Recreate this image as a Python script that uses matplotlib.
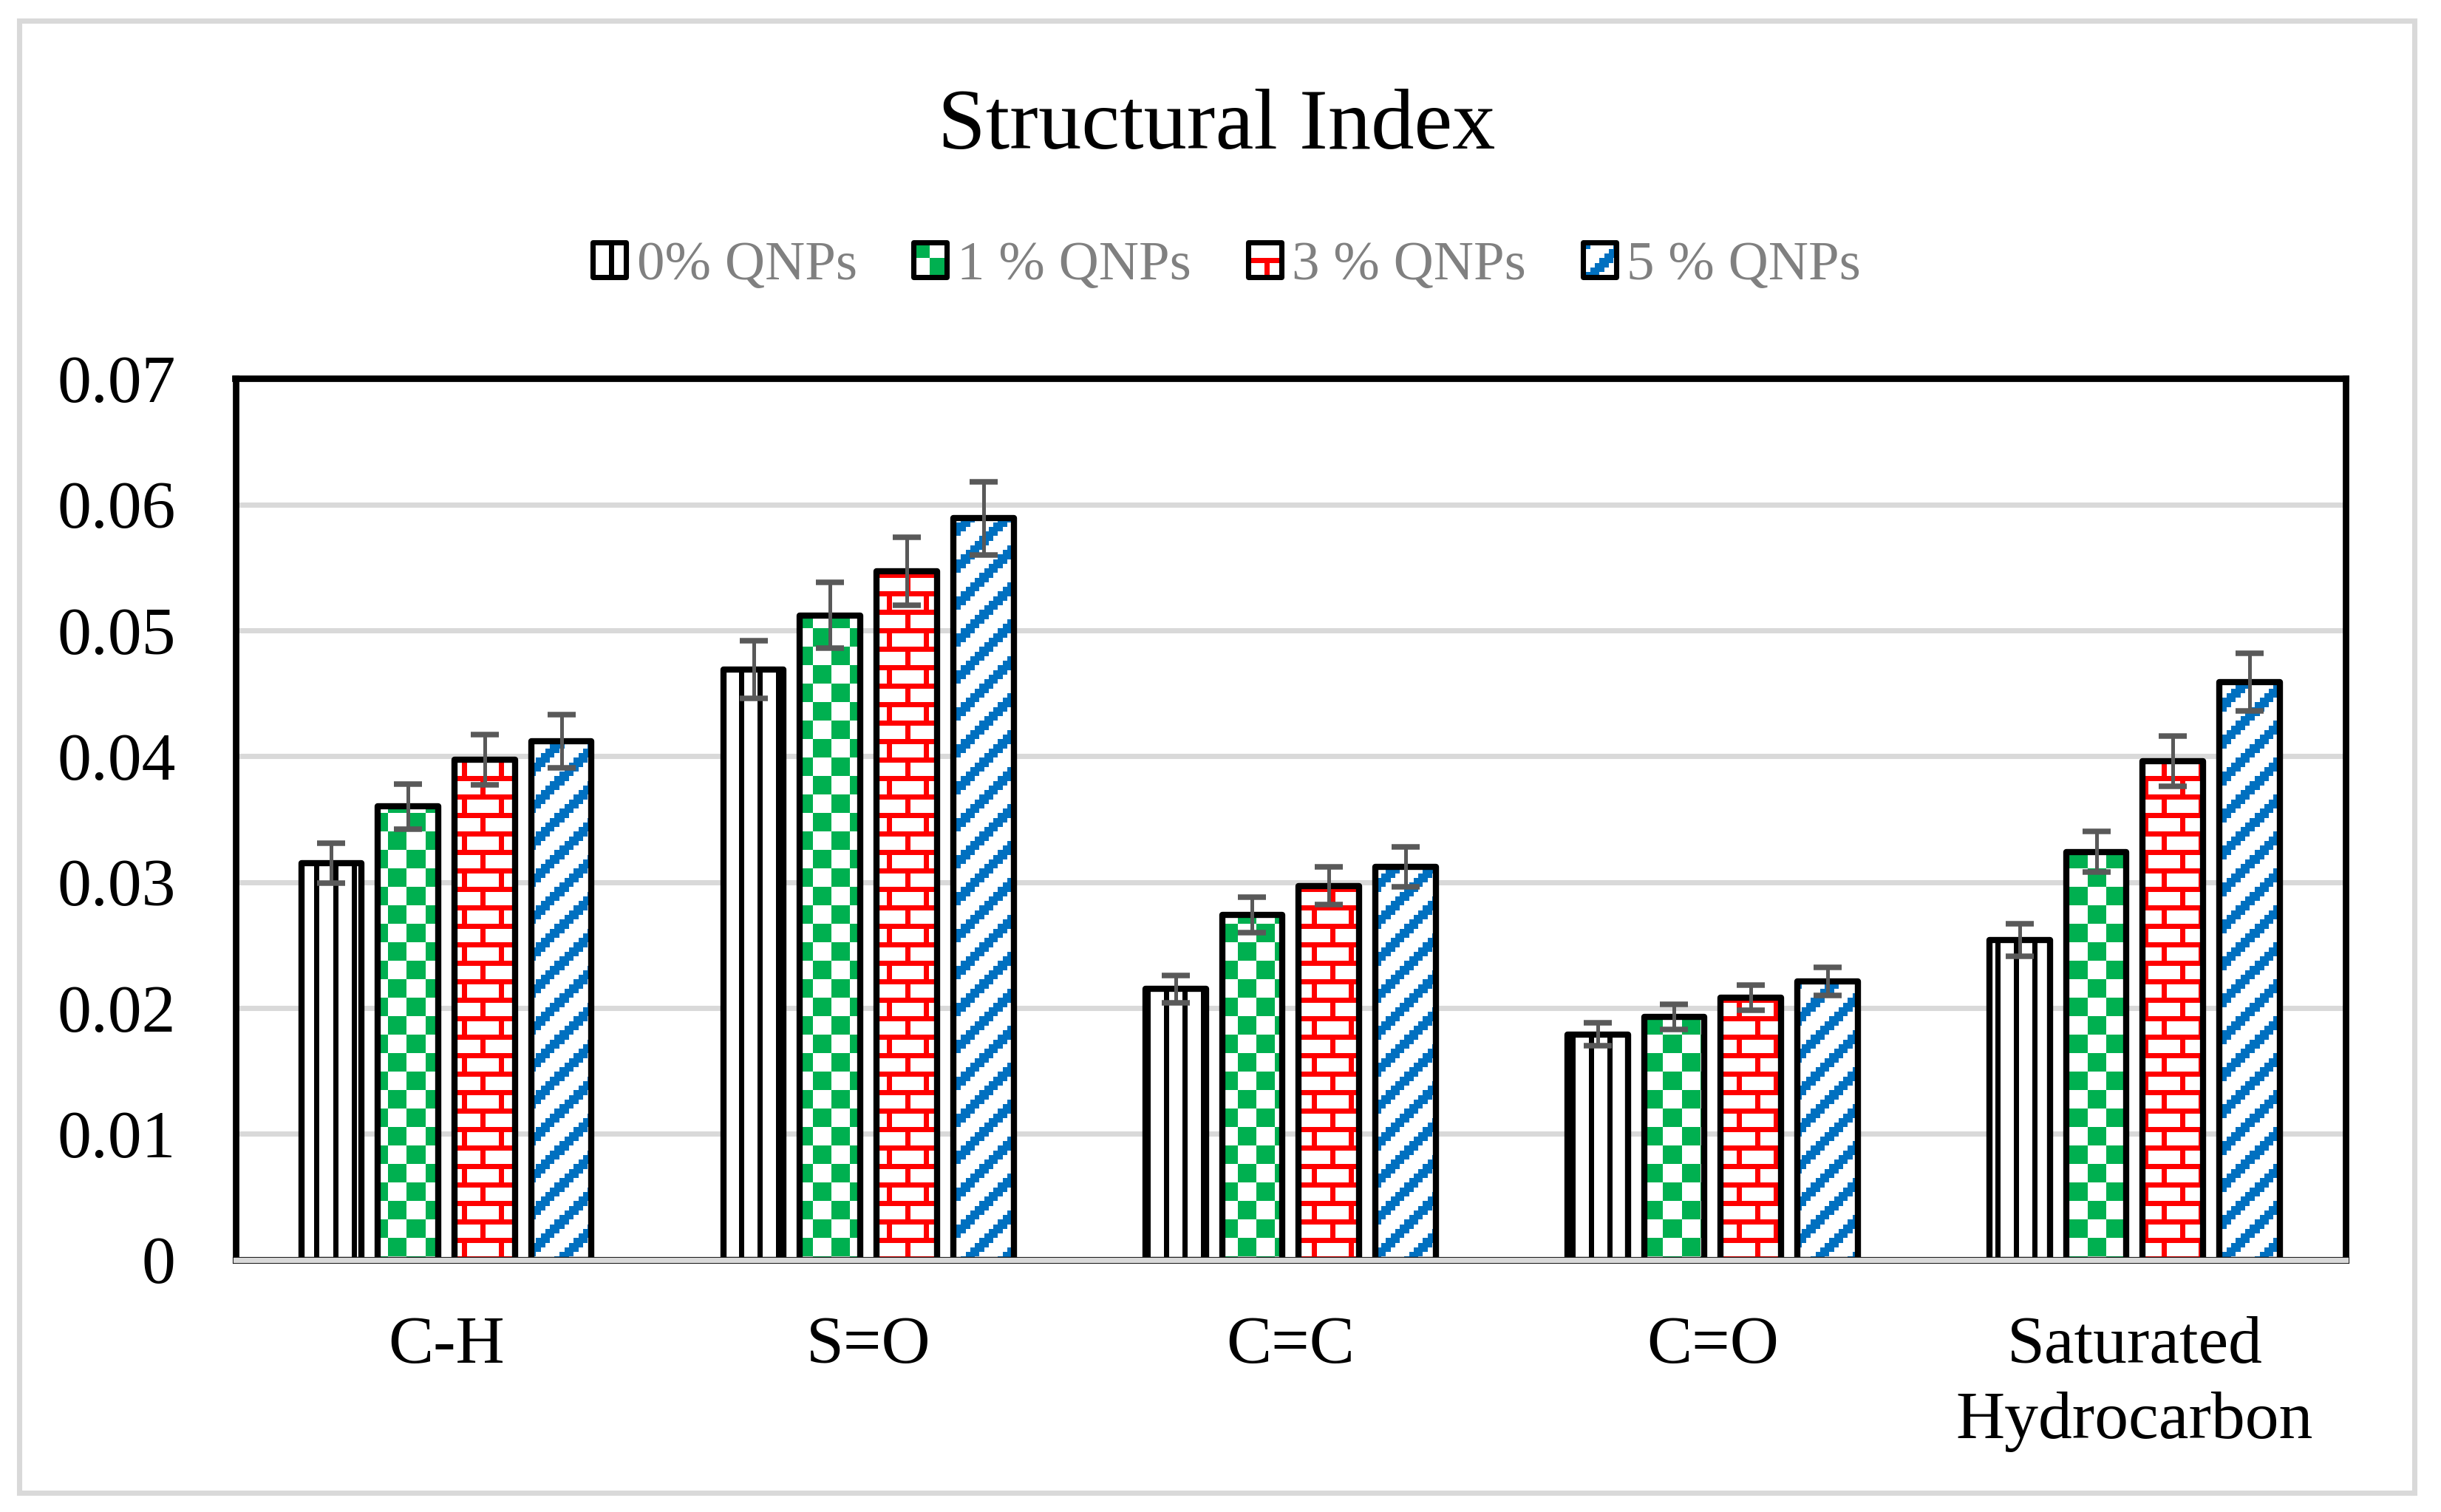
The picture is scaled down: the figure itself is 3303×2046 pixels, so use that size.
import numpy as np
import matplotlib
matplotlib.use("Agg")
import matplotlib.pyplot as plt
from matplotlib.patches import Rectangle
from matplotlib.colors import to_rgb
from matplotlib.legend_handler import HandlerBase
from matplotlib.image import BboxImage
from matplotlib.transforms import Bbox, TransformedBbox

plt.rcParams['font.family'] = ['Liberation Serif', 'DejaVu Serif']

# ---------------- data ----------------
categories = ['C-H', 'S=O', 'C=C', 'C=O', 'Saturated\nHydrocarbon']
series_labels = ['0% QNPs', '1 % QNPs', '3 % QNPs', '5 % QNPs']

q0 = [0.0315, 0.0469, 0.0215, 0.0179, 0.0254]
q1 = [0.0360, 0.0512, 0.0274, 0.0193, 0.0324]
q3 = [0.0397, 0.0547, 0.0297, 0.0208, 0.0396]
q5 = [0.0412, 0.0589, 0.0312, 0.0221, 0.0459]

e0 = [0.0016, 0.0023, 0.0011, 0.0009, 0.0013]
e1 = [0.0018, 0.0026, 0.0014, 0.0010, 0.0016]
e3 = [0.0020, 0.0027, 0.0015, 0.0010, 0.0020]
e5 = [0.0021, 0.0029, 0.0016, 0.0011, 0.0023]

yticks = [0, 0.01, 0.02, 0.03, 0.04, 0.05, 0.06, 0.07]
ytick_labels = ['0', '0.01', '0.02', '0.03', '0.04', '0.05', '0.06', '0.07']

title = 'Structural Index'

# ---------------- styles ----------------
colors = ['#000000', '#00B050', '#FF0000', '#0070C0']
U = 6.25  # pattern cell size in pixels


def _cells(X, Y):
    return (np.floor(X / U).astype(int), np.floor(Y / U).astype(int))


def pat_vert(X, Y):
    cx, cy = _cells(X, Y)
    return (cx % 4) == 0


def pat_checker(X, Y):
    cx, cy = _cells(X, Y)
    return ((cx // 4 + cy // 4) % 2) == 0


def pat_brick(X, Y):
    cx, cy = _cells(X, Y)
    cx = cx % 8
    cy = cy % 8
    return (cy % 4 == 0) | ((cy < 4) & (cx == 0)) | ((cy >= 4) & (cx == 4))


def pat_diag(X, Y):
    cx, cy = _cells(X, Y)
    return ((cx + cy) % 8) < 3


patterns = [pat_vert, pat_checker, pat_brick, pat_diag]


def make_rgb(func, color, X, Y):
    mask = func(X, Y)
    rgb = np.ones(mask.shape + (3,))
    rgb[mask] = to_rgb(color)
    return rgb


# ---------------- figure ----------------
W, H = 3303, 2046
DPI = 300
fig = plt.figure(figsize=(W / DPI, H / DPI), dpi=DPI)
fig.patch.set_facecolor('white')

ax_left, ax_right = 318.5, 3174.0
ax_top, ax_bot = 512.4, 1704.5
ax = fig.add_axes([ax_left / W, 1 - ax_bot / H,
                   (ax_right - ax_left) / W, (ax_bot - ax_top) / H])
ax.set_xlim(-0.5, len(categories) - 0.5)
ax.set_ylim(0, 0.07)

values = [q0, q1, q3, q5]
errors = [e0, e1, e3, e5]
step = 0.1816
width = 0.143
x = np.arange(len(categories))

all_bars = []
for i, (vals, errs) in enumerate(zip(values, errors)):
    xpos = x + (i - 1.5) * step
    bars = ax.bar(xpos, vals, width=width, facecolor='none', edgecolor='black',
                  linewidth=2.0, zorder=3, joinstyle='round')
    all_bars.append(bars)
    ax.errorbar(xpos, vals, yerr=errs, fmt='none', ecolor='#595959',
                elinewidth=1.2, capsize=4.5, capthick=1.8, zorder=4)

# fill patterns inside bars
inv = ax.transData.inverted()
for i, bars in enumerate(all_bars):
    for rect in bars:
        (dx0, dy0), (dx1, dy1) = ax.transData.transform(
            [(rect.get_x(), 0), (rect.get_x() + rect.get_width(), rect.get_height())])
        px0, px1 = int(np.floor(dx0)) - 1, int(np.ceil(dx1)) + 1
        r0, r1 = int(np.floor(H - dy1)) - 1, int(np.ceil(H - dy0)) + 1
        X, Y = np.meshgrid(np.arange(px0, px1), np.arange(r0, r1))
        img = make_rgb(patterns[i], colors[i], X, Y)
        (ex0, eyb), (ex1, eyt) = inv.transform([(px0, H - r1), (px1, H - r0)])
        ax.imshow(img, extent=(ex0, ex1, eyb, eyt), origin='upper',
                  interpolation='nearest', aspect='auto', clip_path=rect, zorder=2)

ax.set_xlim(-0.5, len(categories) - 0.5)
ax.set_ylim(0, 0.07)

# axes styling
ax.set_yticks(yticks)
ax.set_yticklabels(ytick_labels)
ax.set_xticks(x)
ax.set_xticklabels(categories, linespacing=1.3)
ax.tick_params(axis='y', length=0, pad=19.4, labelsize=22)
ax.tick_params(axis='x', length=0, pad=18.3, labelsize=22)
ax.yaxis.grid(True, color='#D9D9D9', linewidth=1.7)
ax.set_axisbelow(True)
for s in ['left', 'right', 'top']:
    ax.spines[s].set_linewidth(2.1)
    ax.spines[s].set_color('black')
ax.spines['bottom'].set_visible(False)
ax.axhline(0, color='black', linewidth=2.2, zorder=5, clip_on=False)
ax.axhline(0, color='#D9D9D9', linewidth=1.75, zorder=6, clip_on=False)

# title
fig.text(1646 / W, 1 - 201 / H, title, ha='center', va='baseline', fontsize=28)


# legend with pattern icons
class PatternHandler(HandlerBase):
    def __init__(self, func, color):
        super().__init__()
        self.func = func
        self.color = color

    def create_artists(self, legend, orig_handle, xdescent, ydescent, width,
                       height, fontsize, trans):
        x0, y0 = -xdescent, -ydescent
        bb = TransformedBbox(Bbox.from_bounds(x0, y0, width, height), trans)
        npx_w = max(int(round(width * DPI / 72)), 2)
        npx_h = max(int(round(height * DPI / 72)), 2)
        X, Y = np.meshgrid(np.arange(npx_w) + 3, np.arange(npx_h) + 3)
        img = BboxImage(bb, interpolation='nearest')
        img.set_data(make_rgb(self.func, self.color, X, Y))
        rect = Rectangle((x0, y0), width, height, facecolor='none',
                         edgecolor='black', linewidth=1.7, joinstyle='round',
                         transform=trans)
        return [img, rect]


handles = [Rectangle((0, 0), 1, 1) for _ in series_labels]
hmap = {h: PatternHandler(patterns[i], colors[i]) for i, h in enumerate(handles)}
fig.legend(handles, series_labels, loc='center', bbox_to_anchor=(1660 / W, 1 - 360 / H),
           ncol=4, frameon=False, fontsize=18, handlelength=0.6, handleheight=0.6,
           handletextpad=0.19, columnspacing=1.02, borderaxespad=0, borderpad=0,
           labelcolor='#808080', handler_map=hmap)

# outer chart border
fig.add_artist(Rectangle((26 / W, 1 - 2020 / H), (3266.5 - 26) / W, (2020 - 28) / H,
                         transform=fig.transFigure, fill=False,
                         edgecolor='#D9D9D9', linewidth=1.7))

fig.savefig('out.png', dpi=DPI)
